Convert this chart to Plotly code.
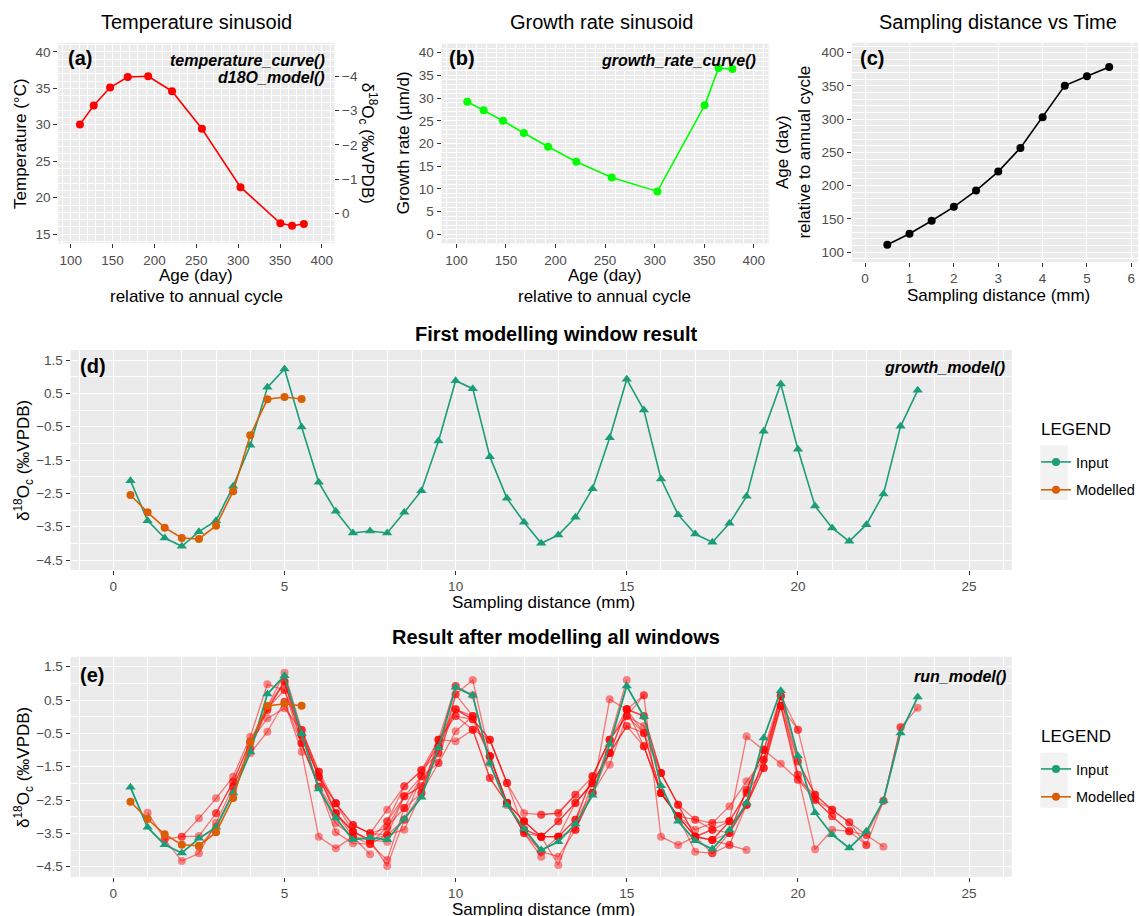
import plotly.graph_objects as go

W, H = 1140, 916
FONT = "Liberation Sans, Arial, Helvetica, sans-serif"

# ---------------- data ----------------
sample_mm = [0.5, 1.0, 1.5, 2.0, 2.5, 3.0, 3.5, 4.0, 4.5, 5.0, 5.5]
age_day = [111, 127.5, 147, 168, 192.5, 221, 256.7, 302.8, 350.4, 364.4, 378.5]
temperature_c = [30.05, 32.65, 35.1, 36.55, 36.65, 34.6, 29.45, 21.45, 16.5, 16.15, 16.4]
growth_rate_um_d = [29.2, 27.3, 25.0, 22.3, 19.3, 16.0, 12.5, 9.45, 28.4, 36.6, 36.4]

input_mm = [0.5, 1.0, 1.5, 2.0, 2.5, 3.0, 3.5, 4.0, 4.5, 5.0, 5.5, 6.0, 6.5, 7.0, 7.5, 8.0,
            8.5, 9.0, 9.5, 10.0, 10.5, 11.0, 11.5, 12.0, 12.5, 13.0, 13.5, 14.0, 14.5, 15.0,
            15.5, 16.0, 16.5, 17.0, 17.5, 18.0, 18.5, 19.0, 19.5, 20.0, 20.5, 21.0, 21.5,
            22.0, 22.5, 23.0, 23.5]
input_d18o = [-2.12, -3.32, -3.84, -4.09, -3.65, -3.32, -2.29, -1.06, 0.68, 1.23, -0.51,
              -2.17, -3.04, -3.69, -3.63, -3.69, -3.07, -2.42, -0.93, 0.88, 0.64, -1.40,
              -2.65, -3.37, -4.00, -3.75, -3.22, -2.36, -0.83, 0.92, 0.00, -2.07, -3.14,
              -3.72, -3.97, -3.40, -2.59, -0.64, 0.78, -1.18, -2.88, -3.54, -3.94, -3.44,
              -2.52, -0.49, 0.59]

modelled_mm = [0.5, 1.0, 1.5, 2.0, 2.5, 3.0, 3.5, 4.0, 4.5, 5.0, 5.5]
modelled_d18o = [-2.55, -3.07, -3.53, -3.84, -3.87, -3.47, -2.44, -0.76, 0.32, 0.39, 0.33]

# start position (mm) of every later modelling window, and its modelled values
window_start_mm = [1.0, 1.5, 2.0, 2.5, 3.0, 3.5, 4.0, 4.5, 5.0, 5.5, 6.0, 6.5, 7.0, 7.5,
                   8.0, 8.5, 9.0, 9.5, 10.0, 10.5, 11.0, 11.5, 12.0, 12.5, 13.0, 13.5,
                   14.0, 14.5, 15.0, 15.5, 16.0, 16.5, 17.0, 17.5, 18.0, 18.5]
window_d18o = [
    [-2.88, -3.68, -4.33, -4.10, -3.18, -2.10, -0.95, 0.30, 1.32, -0.40, -1.65],
    [-3.68, -3.60, -3.58, -2.90, -1.95, -0.75, 0.20, 1.05, -0.55, -1.80, -2.60],
    [-3.60, -3.05, -2.45, -1.80, -0.60, 0.97, 0.80, -0.80, -2.10, -2.90, -3.45],
    [-3.90, -3.30, -2.25, -1.10, -0.45, 0.45, -1.05, -3.60, -3.95, -3.60, -4.13],
    [-2.90, -1.95, -0.75, 0.25, 0.80, -0.55, -1.80, -2.90, -3.45, -3.70, -3.75],
    [-2.10, -0.95, 0.20, 1.05, -0.80, -2.10, -3.20, -3.60, -3.82, -3.30, -2.74],
    [-0.75, -0.05, 0.25, -0.40, -1.65, -2.60, -3.25, -3.50, -3.55, -2.39, -1.79],
    [0.30, 1.05, -0.55, -1.80, -2.90, -3.45, -3.70, -3.14, -2.09, -1.61, -0.89],
    [0.45, -0.80, -2.10, -3.47, -3.80, -3.82, -4.30, -2.74, -1.79, -0.69, 0.92],
    [-0.40, -1.80, -2.60, -3.25, -3.50, -3.34, -2.39, -2.09, -1.09, 0.22, 0.02],
    [-1.65, -2.90, -3.60, -3.70, -4.48, -3.09, -2.29, -1.39, 0.67, 1.10, -1.19],
    [-2.60, -3.45, -3.70, -3.55, -3.39, -2.29, -0.89, 0.22, -0.08, -0.69, -1.99],
    [-3.25, -3.50, -2.79, -2.09, -1.61, -0.69, 0.02, -0.39, -1.84, -2.59, -3.14],
    [-3.82, -3.55, -3.09, -1.79, -1.39, -0.44, 0.02, -1.19, -2.59, -3.49, -4.20],
    [-3.14, -2.39, -2.09, -0.89, 0.92, 0.64, -1.40, -2.65, -3.37, -3.60, -3.60],
    [-2.74, -2.29, -0.69, -0.74, -0.39, -0.69, -1.99, -2.89, -2.94, -2.89, -2.34],
    [-1.61, -1.09, 0.67, 0.02, -1.19, -2.59, -3.14, -3.60, -3.14, -2.59, -1.99],
    [-0.69, 0.22, -0.08, -0.69, -1.99, -3.39, -4.05, -4.20, -3.39, -2.29, -1.09],
    [0.02, -0.08, -1.19, -2.59, -3.49, -3.60, -4.45, -3.09, -1.79, -0.69, 1.10],
    [-0.39, -1.84, -2.59, -3.14, -3.60, -3.60, -2.59, -1.99, -1.09, 0.22, 0.64],
    [-1.19, -2.59, -3.49, -4.05, -3.60, -3.09, -1.79, -0.69, 0.02, -0.28, -1.69],
    [-2.59, -3.39, -3.60, -3.60, -3.39, -2.29, 0.52, 0.22, -0.49, -2.29, -2.99],
    [-3.14, -3.60, -3.14, -2.59, -1.99, -1.09, 0.22, -0.89, -2.29, -2.99, -3.60],
    [-2.94, -2.89, -2.34, -1.79, -0.69, 0.02, 0.64, -3.60, -3.85, -3.60, -3.39],
    [-3.60, -3.09, -2.29, -1.44, 0.02, -0.49, -1.69, -2.64, -3.09, -3.19, -3.14],
    [-3.39, -1.99, -1.09, -0.28, -0.89, -2.29, -2.99, -3.60, -3.70, -3.85, -4.00],
    [-2.29, -0.69, 0.22, 0.02, -1.69, -2.64, -3.60, -4.10, -3.49, -2.19, -0.99],
    [-1.09, -0.28, -0.49, -2.29, -2.99, -4.05, -4.10, -3.85, -2.64, -1.29, 0.62],
    [0.22, 0.02, -1.69, -2.64, -3.60, -3.70, -3.14, -2.29, -1.54, 0.32, -0.39],
    [-0.89, -2.29, -2.99, -3.39, -3.19, -2.69, -1.94, -1.29, 0.62, -1.34, -2.34],
    [-2.29, -2.99, -3.09, -3.39, -3.49, -2.19, -0.99, 0.32, -1.74, -2.49, -2.79],
    [-2.99, -3.60, -3.39, -3.14, -2.29, -0.99, 0.62, -0.39, -2.49, -2.99, -3.44],
    [-3.60, -3.70, -3.49, -2.64, -1.54, 0.32, -1.34, -2.34, -2.79, -3.17, -3.85],
    [-3.70, -3.14, -0.59, -0.99, -1.41, -1.89, -2.34, -2.79, -3.17, -3.55, -3.90],
    [-3.49, -2.64, -1.54, 0.62, -1.74, -3.98, -3.39, -3.44, -3.55, -2.52, -0.32],
    [-2.64, -1.29, 0.32, -1.89, -2.49, -2.99, -3.44, -3.85, -2.52, -0.32, 0.27],
]

# ---------------- style ----------------
C_INPUT = "#1B9E77"
C_MODEL = "#D95F02"
RED = "#FF0000"
GREEN = "#00FF00"
D18O_TITLE = "δ<sup>18</sup>O<sub>c</sub> (‰VPDB)"


def px(x):
    return x / W


def py(y):
    return 1 - y / H


def axis(domain, rng, tick0, dtick, anchor, minor=None, **kw):
    d = dict(domain=domain, range=rng, tick0=tick0, dtick=dtick, tickmode="linear",
             anchor=anchor, showgrid=True, gridcolor="white", gridwidth=1.3,
             zeroline=False, showline=False, ticks="outside", ticklen=4, tickwidth=1,
             tickcolor="#333333", fixedrange=True,
             tickfont=dict(family=FONT, size=13.5, color="#4D4D4D"))
    if minor is not None:
        d["minor"] = dict(dtick=minor[0], tick0=minor[1], showgrid=True,
                          gridcolor="white", gridwidth=0.7)
    d.update(kw)
    return d


fig = go.Figure()

# (a) temperature
fig.add_trace(go.Scatter(x=age_day, y=temperature_c, xaxis="x", yaxis="y",
                         mode="lines+markers", line=dict(color=RED, width=1.6),
                         marker=dict(size=8, color=RED), showlegend=False))
fig.add_trace(go.Scatter(x=[], y=[], xaxis="x", yaxis="y6", showlegend=False,
                         hoverinfo="skip"))
# (b) growth rate
fig.add_trace(go.Scatter(x=age_day, y=growth_rate_um_d, xaxis="x2", yaxis="y2",
                         mode="lines+markers", line=dict(color=GREEN, width=1.6),
                         marker=dict(size=8, color=GREEN), showlegend=False))
# (c) distance vs time
fig.add_trace(go.Scatter(x=sample_mm, y=age_day, xaxis="x3", yaxis="y3",
                         mode="lines+markers", line=dict(color="black", width=1.6),
                         marker=dict(size=8, color="black"), showlegend=False))

# (d) first window
fig.add_trace(go.Scatter(x=input_mm, y=input_d18o, xaxis="x4", yaxis="y4",
                         mode="lines+markers", line=dict(color=C_INPUT, width=1.6),
                         marker=dict(size=9, color=C_INPUT, symbol="triangle-up"),
                         showlegend=False))
fig.add_trace(go.Scatter(x=modelled_mm, y=modelled_d18o, xaxis="x4", yaxis="y4",
                         mode="lines+markers", line=dict(color=C_MODEL, width=1.6),
                         marker=dict(size=8, color=C_MODEL), showlegend=False))

# (e) all windows
for start, vals in zip(window_start_mm, window_d18o):
    i0 = input_mm.index(start)
    xs = input_mm[i0:i0 + len(vals)]
    fig.add_trace(go.Scatter(x=xs, y=vals, xaxis="x5", yaxis="y5", mode="lines+markers",
                             line=dict(color="rgba(255,0,0,0.5)", width=1.3),
                             marker=dict(size=8, color="rgba(255,0,0,0.45)"),
                             showlegend=False, hoverinfo="skip"))
fig.add_trace(go.Scatter(x=input_mm, y=input_d18o, xaxis="x5", yaxis="y5",
                         mode="lines+markers", line=dict(color=C_INPUT, width=1.8),
                         marker=dict(size=9, color=C_INPUT, symbol="triangle-up"),
                         showlegend=False))
fig.add_trace(go.Scatter(x=modelled_mm, y=modelled_d18o, xaxis="x5", yaxis="y5",
                         mode="lines+markers", line=dict(color=C_MODEL, width=1.6),
                         marker=dict(size=8, color=C_MODEL), showlegend=False))

# legend entries (ggplot keys use circles)
for lg, xa, ya in (("legend", "x4", "y4"), ("legend2", "x5", "y5")):
    fig.add_trace(go.Scatter(x=[None], y=[None], xaxis=xa, yaxis=ya, name="Input",
                             mode="lines+markers", line=dict(color=C_INPUT, width=1.6),
                             marker=dict(size=8, color=C_INPUT), legend=lg,
                             legendgroup=lg + "i"))
    fig.add_trace(go.Scatter(x=[None], y=[None], xaxis=xa, yaxis=ya, name="Modelled",
                             mode="lines+markers", line=dict(color=C_MODEL, width=1.6),
                             marker=dict(size=8, color=C_MODEL), legend=lg,
                             legendgroup=lg + "m"))

# ---------------- axes ----------------
XA = [px(58.3), px(335)]
YA = [py(243.3), py(42.7)]
XB = [px(442.3), px(770)]
YB = [py(243.4), py(43.6)]
XC = [px(853.3), 1.0]
YC = [py(262), py(42.7)]
XD = [px(70.7), px(1013.6)]
YD = [py(570), py(350)]
YE = [py(876.7), py(656.7)]

layout = dict(
    width=W, height=H, autosize=False,
    margin=dict(l=0, r=0, t=0, b=0),
    paper_bgcolor="white", plot_bgcolor="#EBEBEB",
    font=dict(family=FONT, color="black"),
    hovermode=False,
    xaxis=axis(XA, [85, 415], 100, 50, "y", minor=(10, 0)),
    yaxis=axis(YA, [13.75, 41.25], 15, 5, "x", minor=(1, 0)),
    yaxis6=dict(overlaying="y", side="right", anchor="x", range=[0.86, -4.97],
                tickmode="array", tickvals=[-4, -3, -2, -1, 0], showgrid=False,
                zeroline=False, showline=False, ticks="outside", ticklen=4,
                tickwidth=1, tickcolor="#333333", fixedrange=True,
                tickfont=dict(family=FONT, size=13.5, color="#4D4D4D")),
    xaxis2=axis(XB, [85, 415], 100, 50, "y2", minor=(10, 0)),
    yaxis2=axis(YB, [-2, 42], 0, 5, "x2", minor=(1, 0)),
    xaxis3=axis(XC, [-0.3, 6.15], 0, 1, "y3"),
    yaxis3=axis(YC, [85, 415], 100, 50, "x3", minor=(10, 0)),
    xaxis4=axis(XD, [-1.25, 26.25], 0, 5, "y4", minor=(1, 0)),
    yaxis4=axis(YD, [-4.8, 1.8], 1.5, 1, "x4", minor=(0.5, 0)),
    xaxis5=axis(XD, [-1.25, 26.25], 0, 5, "y5", minor=(1, 0)),
    yaxis5=axis(YE, [-4.8, 1.8], 1.5, 1, "x5", minor=(0.5, 0)),
)

leg_common = dict(xanchor="left", yanchor="top", bgcolor="rgba(0,0,0,0)",
                  borderwidth=0, itemwidth=30, tracegroupgap=6,
                  traceorder="grouped",
                  font=dict(family=FONT, size=14.5, color="black"))
layout["legend"] = dict(x=px(1038), y=py(446), **leg_common)
layout["legend2"] = dict(x=px(1038), y=py(753), **leg_common)

fig.update_layout(**layout)

# legend key backgrounds
for y0, y1 in ((445, 500), (752.7, 807.7)):
    fig.add_shape(type="rect", xref="paper", yref="paper", x0=px(1042), x1=px(1069.5),
                  y0=py(y1), y1=py(y0), fillcolor="#F2F2F2", line=dict(width=0),
                  layer="below")


def ann(text, x, y, size, xanchor="center", yanchor="middle", angle=0):
    fig.add_annotation(text=text, x=px(x), y=py(y), xref="paper", yref="paper",
                       showarrow=False, xanchor=xanchor, yanchor=yanchor,
                       textangle=angle, font=dict(family=FONT, size=size, color="black"))


# plot titles
ann("Temperature sinusoid", 196.7, 22, 20)
ann("Growth rate sinusoid", 602.5, 22, 20)
ann("Sampling distance vs Time", 1000, 22, 20)
ann("<b>First modelling window result</b>", 557, 334, 20)
ann("<b>Result after modelling all windows</b>", 557, 637, 20)

# legend titles
ann("LEGEND", 1041, 429, 17, xanchor="left")
ann("LEGEND", 1041, 736, 17, xanchor="left")

# axis titles
for cx in (196.7, 606):
    ann("Age (day)", cx, 276, 17)
    ann("relative to annual cycle", cx, 296, 17)
ann("Sampling distance (mm)", 1000, 295, 17)
ann("Sampling distance (mm)", 544, 602, 17)
ann("Sampling distance (mm)", 544, 909, 17)
ann("Temperature (°C)", 21, 143, 17, angle=-90)
ann(D18O_TITLE, 368, 143, 17, angle=90)
ann("Growth rate (µm/d)", 405, 143, 17, angle=-90)
ann("Age (day)<br>relative to annual cycle", 795, 152, 17, angle=-90)
ann(D18O_TITLE, 24, 460, 17, angle=-90)
ann(D18O_TITLE, 23, 767, 17, angle=-90)

# panel tags and function names
ann("<b>(a)</b>", 66, 58, 20, xanchor="left")
ann("<b><i>temperature_curve()</i></b>", 328, 60, 16, xanchor="right")
ann("<b><i>d18O_model()</i></b>", 328, 77, 16, xanchor="right")
ann("<b>(b)</b>", 448, 58, 20, xanchor="left")
ann("<b><i>growth_rate_curve()</i></b>", 759, 60, 16, xanchor="right")
ann("<b>(c)</b>", 860, 58, 20, xanchor="left")
ann("<b>(d)</b>", 78.6, 366, 20, xanchor="left")
ann("<b><i>growth_model()</i></b>", 1009, 367, 16, xanchor="right")
ann("<b>(e)</b>", 78, 675, 20, xanchor="left")
ann("<b><i>run_model()</i></b>", 1010, 676, 16, xanchor="right")

fig.write_html(
    "out.html",
    config={"displayModeBar": False},
    post_script="document.body.style.margin='0';document.body.style.overflow='hidden';",
)
